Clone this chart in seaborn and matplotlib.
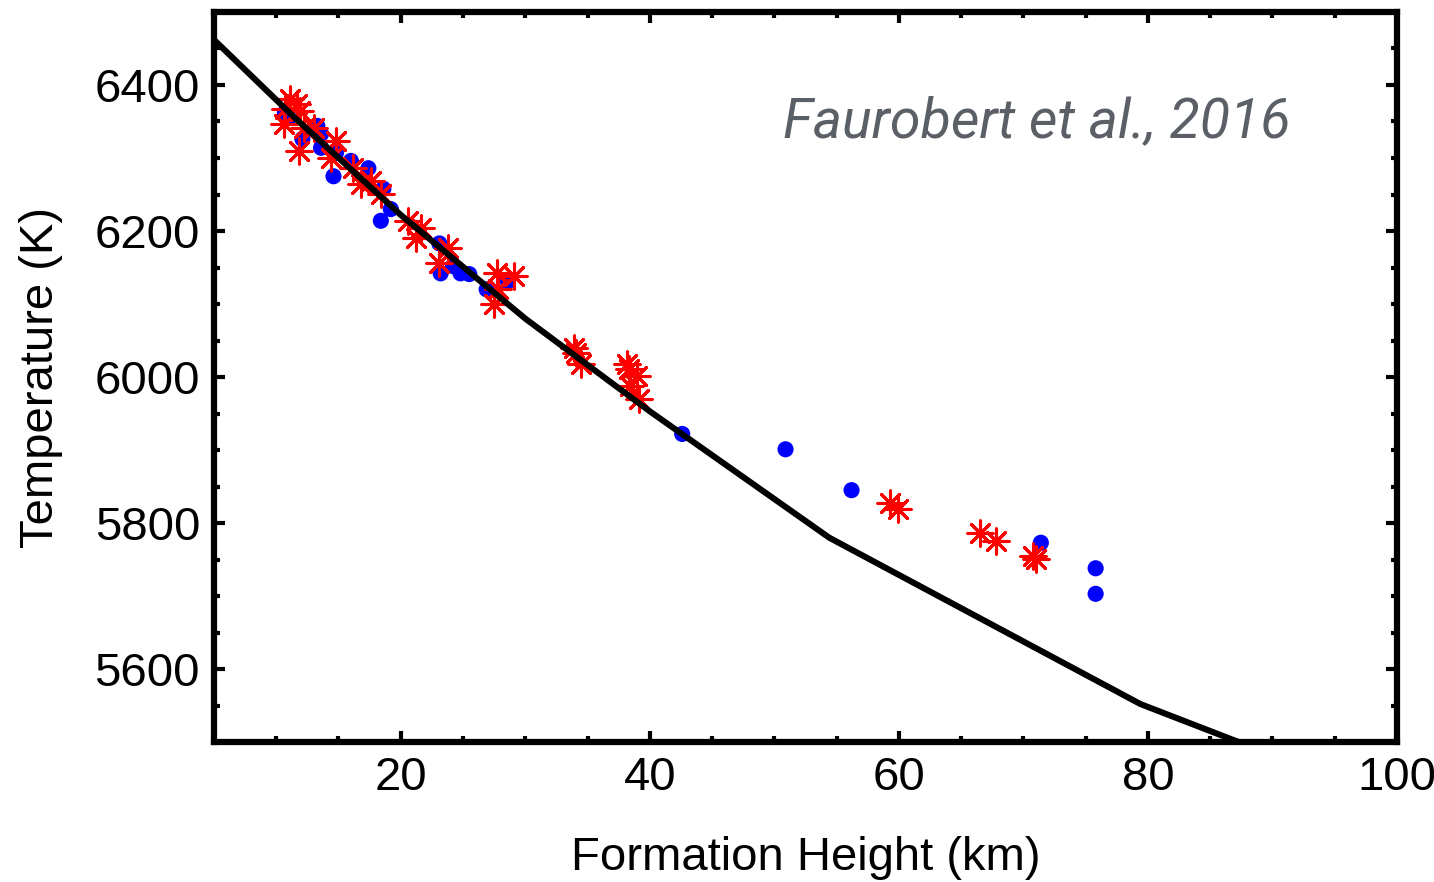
import matplotlib
matplotlib.use("Agg")
import matplotlib.pyplot as plt
import seaborn as sns
import pandas as pd
from matplotlib.ticker import MultipleLocator

# Blue circles (formation height km, temperature K)
blue_x = [10.7, 11.0, 13.3, 13.6, 12.1, 13.6, 14.8, 16.0, 14.6, 17.4, 18.6, 19.2, 18.4,
          23.1, 23.2, 24.2, 24.8, 25.5, 26.9, 28.6, 42.6, 50.9, 56.2, 71.4, 75.8, 75.8]
blue_y = [6362, 6355, 6344, 6333, 6326, 6314, 6307, 6296, 6275, 6286, 6258, 6230, 6214,
          6183, 6142, 6152, 6142, 6141, 6120, 6131, 5922, 5901, 5845, 5773, 5738, 5703]

# Red stars
red_x = [11.1, 11.7, 11.9, 10.7, 10.6, 12.2, 13.0, 11.8, 14.8, 14.4, 16.2, 17.6, 16.8, 18.4,
         20.6, 21.6, 21.2, 23.8, 23.1, 27.7, 29.1, 27.8, 27.5, 33.9, 34.1, 34.5, 38.2, 38.3,
         39.0, 38.4, 39.1, 59.3, 59.9, 66.5, 67.8, 70.8, 71.0]
red_y = [6381, 6374, 6364, 6367, 6347, 6341, 6341, 6310, 6323, 6300, 6286, 6268, 6264, 6251,
         6214, 6204, 6190, 6177, 6156, 6142, 6138, 6121, 6100, 6040, 6033, 6018, 6018, 6011,
         6001, 5988, 5970, 5827, 5819, 5786, 5775, 5755, 5751]

# Model temperature curve
model_x = [5.0, 11.5, 20.0, 30.0, 40.0, 54.4, 79.4, 88.8]
model_y = [6462, 6355, 6222, 6080, 5953, 5780, 5552, 5490]

x_ticks = [20, 40, 60, 80, 100]
y_ticks = [5600, 5800, 6000, 6200, 6400]

sns.set_style("ticks")
plt.rcParams['font.family'] = ['Liberation Sans', 'DejaVu Sans']

fig = plt.figure(figsize=(14.34, 8.82), dpi=100)
ax = fig.add_axes([0.1492, 0.1587, 0.8250, 0.8277])

blue_df = pd.DataFrame({"h": blue_x, "T": blue_y})
red_df = pd.DataFrame({"h": red_x, "T": red_y})
model_df = pd.DataFrame({"h": model_x, "T": model_y})

sns.scatterplot(data=blue_df, x="h", y="T", ax=ax, color="#0000ff", s=135,
                edgecolor="none", zorder=2)
sns.scatterplot(data=red_df, x="h", y="T", ax=ax, color="#ff0000", marker=(8, 2, 0),
                s=330, linewidth=2.2, zorder=3)
sns.lineplot(data=model_df, x="h", y="T", ax=ax, color="black", linewidth=4.4,
             sort=False, zorder=4)

ax.set_xlim(5, 100)
ax.set_ylim(5500, 6500)
ax.set_xticks(x_ticks)
ax.set_yticks(y_ticks)
ax.xaxis.set_minor_locator(MultipleLocator(5))
ax.yaxis.set_minor_locator(MultipleLocator(50))
ax.tick_params(which="both", direction="in", top=True, right=True, width=3,
               labelsize=34, colors="black")
ax.tick_params(which="major", length=8, pad=10)
ax.tick_params(which="minor", length=4.5)
for sp in ax.spines.values():
    sp.set_linewidth(4.5)
    sp.set_color("black")
    sp.set_visible(True)

ax.set_xlabel("Formation Height (km)", fontsize=34, labelpad=26, color="black")
ax.set_ylabel("Temperature (K)", fontsize=34, labelpad=23, color="black")

ax.text(0.9096, 0.849, "Faurobert et al., 2016", transform=ax.transAxes,
        ha="right", va="center", fontsize=40, style="italic", fontweight="normal",
        family=["Roboto", "DejaVu Sans"], color="#5b5f66")

fig.savefig("out.png", dpi=100)
